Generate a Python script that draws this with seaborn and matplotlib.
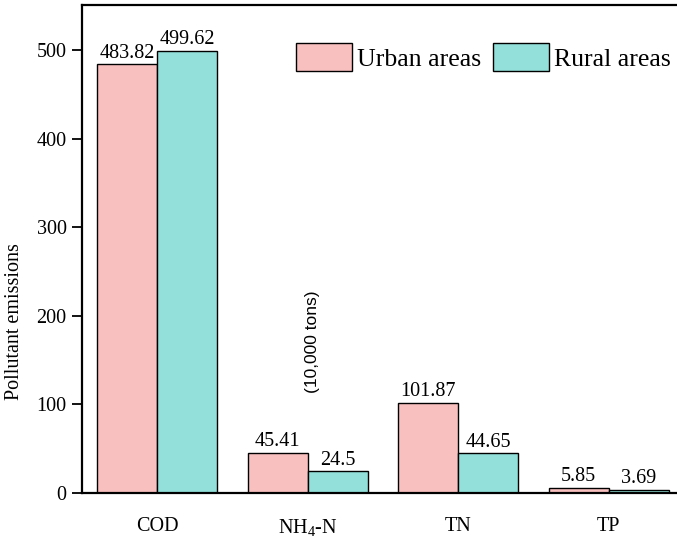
import matplotlib
matplotlib.use("Agg")
import matplotlib.pyplot as plt
import seaborn as sns
import pandas as pd

categories = ["COD", "NH$_4$-N", "TN", "TP"]
urban = [483.82, 45.41, 101.87, 5.85]
rural = [499.62, 24.5, 44.65, 3.69]
urban_labels = ["483.82", "45.41", "101.87", "5.85"]
rural_labels = ["499.62", "24.5", "44.65", "3.69"]
series = ["Urban areas", "Rural areas"]
colors = ["#F9C0C0", "#92E0D9"]
y_ticks = [0, 100, 200, 300, 400, 500]

sns.set_style("ticks")
plt.rcParams["font.family"] = ["Liberation Serif", "DejaVu Serif"]
plt.rcParams["mathtext.fontset"] = "custom"
plt.rcParams["mathtext.rm"] = "Liberation Serif"
plt.rcParams["mathtext.default"] = "regular"
for key in ["text.color", "axes.labelcolor", "xtick.color", "ytick.color",
            "axes.edgecolor"]:
    plt.rcParams[key] = "black"

df = pd.DataFrame({
    "category": categories * 2,
    "area": [series[0]] * len(categories) + [series[1]] * len(categories),
    "value": urban + rural,
})

W, H = 677, 541
fig = plt.figure(figsize=(W / 100, H / 100), dpi=100)
ax = fig.add_axes([82 / W, 48 / H, 602 / W, 488 / H])

sns.barplot(data=df, x="category", y="value", hue="area", order=categories,
            hue_order=series, palette=colors, edgecolor="black", linewidth=1.0,
            saturation=1, width=0.8, gap=0, errorbar=None, ax=ax)

for cont, labs in zip(ax.containers, [urban_labels, rural_labels]):
    ax.bar_label(cont, labels=labs, padding=1, fontsize=14.5)

ax.set_xlim(-0.5, 3.5)
ax.set_ylim(0, 551)
ax.set_yticks(y_ticks)
ax.tick_params(axis="y", direction="out", length=7, width=1.3, labelsize=14.5, pad=4)
ax.tick_params(axis="x", length=0, labelsize=14.5, pad=17)
for s in ax.spines.values():
    s.set_linewidth(1.6)

ax.set_xlabel("")
ax.set_ylabel("")
fig.text(15 / W, 1 - 322 / H, "Pollutant emissions", fontsize=14.5,
         rotation=90, ha="center", va="center")
fig.text(312 / W, 1 - 342 / H, "(10,000 tons)", fontsize=12.5,
         family=["Liberation Sans", "DejaVu Sans"], rotation=90,
         ha="center", va="center")

ax.legend(loc="upper right", bbox_to_anchor=(671 / W, 1 - 43 / H),
          bbox_transform=fig.transFigure, ncol=2, frameon=False, fontsize=18.5,
          handlelength=2.2, handleheight=1.3, columnspacing=0.43,
          handletextpad=0.2, borderaxespad=0, borderpad=0)

fig.savefig("out.png", dpi=100)
